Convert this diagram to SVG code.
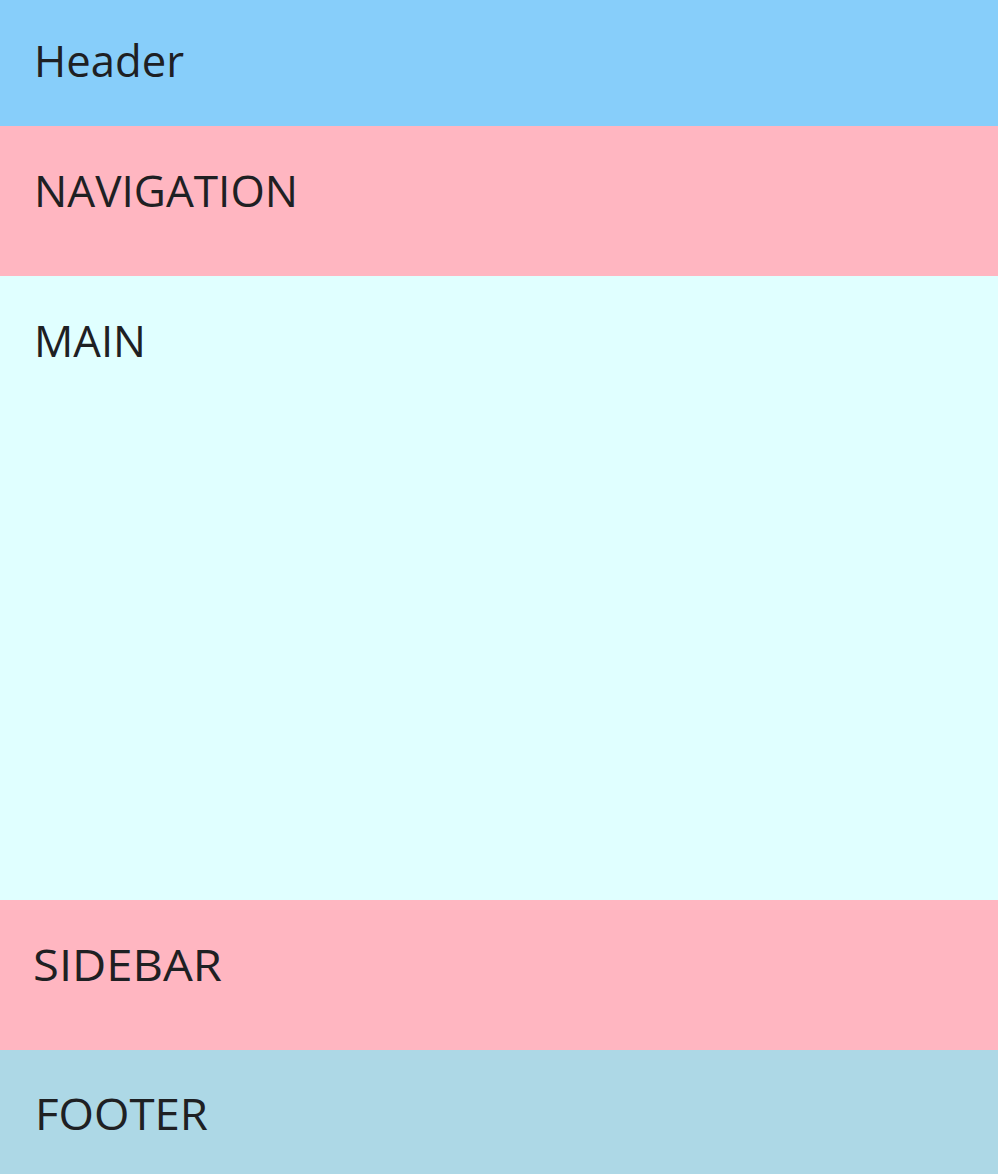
<svg xmlns="http://www.w3.org/2000/svg" width="998" height="1174" viewBox="0 0 998 1174">
<style>
.lbl{font-family:"Open Sans","Liberation Sans",sans-serif;font-size:43px;fill:#1e2023;}
</style>
<g id="header"><rect x="0" y="0" width="998" height="126" fill="#87CEFA"/><text class="lbl" x="34" y="77" textLength="150" lengthAdjust="spacingAndGlyphs">Header</text></g>
<g id="navigation"><rect x="0" y="126" width="998" height="150" fill="#FFB6C1"/><text class="lbl" x="34" y="207" textLength="264" lengthAdjust="spacingAndGlyphs">NAVIGATION</text></g>
<g id="main"><rect x="0" y="276" width="998" height="624" fill="#E0FFFF"/><text class="lbl" x="34" y="357" textLength="112" lengthAdjust="spacingAndGlyphs">MAIN</text></g>
<g id="sidebar"><rect x="0" y="900" width="998" height="150" fill="#FFB6C1"/><text class="lbl" x="33" y="981" textLength="189" lengthAdjust="spacingAndGlyphs">SIDEBAR</text></g>
<g id="footer"><rect x="0" y="1050" width="998" height="124" fill="#ADD8E6"/><text class="lbl" x="35" y="1130" textLength="173" lengthAdjust="spacingAndGlyphs">FOOTER</text></g>
<g id="connectors"/>
</svg>
